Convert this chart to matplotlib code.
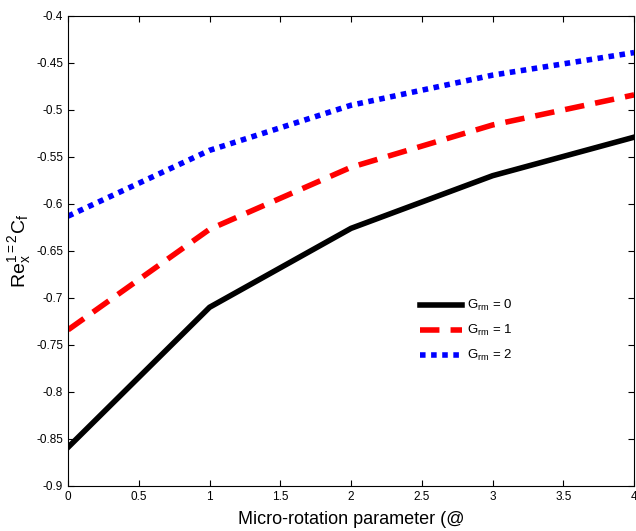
import matplotlib
matplotlib.use("Agg")
import matplotlib.pyplot as plt

x = [0, 1, 2, 3, 4]
g0 = [-0.859, -0.710, -0.626, -0.570, -0.529]
g1 = [-0.734, -0.627, -0.561, -0.516, -0.484]
g2 = [-0.613, -0.543, -0.495, -0.463, -0.439]
labels = [r'$\mathregular{G_{rm}}$ = 0', r'$\mathregular{G_{rm}}$ = 1', r'$\mathregular{G_{rm}}$ = 2']

plt.rcParams['font.family'] = ['Liberation Sans', 'DejaVu Sans']

fig = plt.figure(figsize=(6.36, 5.31), dpi=100)
ax = fig.add_axes([0.107, 0.085, 0.89, 0.885])
ax.plot(x, g0, color='black', lw=4, ls='-', label=labels[0])
ax.plot(x, g1, color='red', lw=4, ls=(0, (3.5, 2)), label=labels[1])
ax.plot(x, g2, color='blue', lw=4, ls=(0, (1, 1)), label=labels[2])
ax.set_xlim(0, 4)
ax.set_ylim(-0.9, -0.4)
ax.set_xticks([0, 0.5, 1, 1.5, 2, 2.5, 3, 3.5, 4])
ax.set_xticklabels(['0', '0.5', '1', '1.5', '2', '2.5', '3', '3.5', '4'])
yt = [-0.9, -0.85, -0.8, -0.75, -0.7, -0.65, -0.6, -0.55, -0.5, -0.45, -0.4]
ax.set_yticks(yt)
ax.set_yticklabels(['-0.9', '-0.85', '-0.8', '-0.75', '-0.7', '-0.65', '-0.6', '-0.55', '-0.5', '-0.45', '-0.4'])
ax.tick_params(direction='in', labelsize=8.5, length=4, top=True, right=True)
ax.set_xlabel('Micro-rotation parameter (@', fontsize=13, labelpad=6)
ax.set_ylabel(r'$\mathregular{Re_x^{1=2}C_f}$', fontsize=14, labelpad=2)
ax.legend(loc='center left', bbox_to_anchor=(0.60, 0.33), frameon=False, fontsize=9.5,
          handlelength=3.2, labelspacing=0.75, handletextpad=0.4)
fig.savefig('out.png', dpi=100)
